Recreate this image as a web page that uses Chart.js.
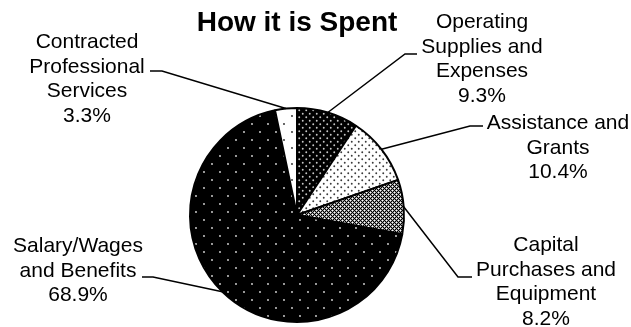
<!DOCTYPE html>
<html>
<head>
<meta charset="utf-8">
<script src="https://cdn.jsdelivr.net/npm/chart.js@4"></script>
<style>
  html, body { margin: 0; padding: 0; background: #fff; }
  #wrap { width: 631px; height: 327px; }
</style>
</head>
<body>
<div id="wrap"><canvas id="spentChart"></canvas></div>
<script>
// slices, clockwise from 12 o'clock
const categories = [
  ['Operating', 'Supplies and', 'Expenses'],
  ['Assistance and', 'Grants'],
  ['Capital', 'Purchases and', 'Equipment'],
  ['Salary/Wages', 'and Benefits'],
  ['Contracted', 'Professional', 'Services']
];
const shares = [9.3, 10.4, 8.2, 68.9, 3.3];
const chartTitle = 'How it is Spent';

// where each label block sits and where its leader line bends
const labelLayout = [
  { cx: 482, top: 28, elbow: [405, 54], end: [417, 54] },
  { cx: 558, top: 129, elbow: [470, 126], end: [483, 126] },
  { cx: 546, top: 251, elbow: [458, 277], end: [472, 277] },
  { cx: 78, top: 252, elbow: [153, 277], end: [142, 277] },
  { cx: 87, top: 48, elbow: [162, 71], end: [150, 71] }
];

const makeTile = (size, bg, draw) => {
  const c = document.createElement('canvas');
  c.width = size; c.height = size;
  const g = c.getContext('2d');
  g.fillStyle = bg;
  g.fillRect(0, 0, size, size);
  draw(g);
  return c;
};

const dots = (g, color, r, pts) => {
  g.fillStyle = color;
  pts.forEach(p => {
    g.beginPath();
    g.arc(p[0], p[1], r, 0, Math.PI * 2);
    g.fill();
  });
};

const ctx = document.getElementById('spentChart').getContext('2d');

const tiles = [
  makeTile(7, '#000', g => dots(g, '#c8c8c8', 0.95, [[1.75, 1.75], [5.25, 5.25]])),
  makeTile(7, '#fff', g => dots(g, '#3a3a3a', 0.95, [[1.75, 1.75], [5.25, 5.25]])),
  makeTile(4, '#9a9a9a', g => {
    g.fillStyle = '#000';
    [[0, 0], [1, 1], [2, 2], [3, 3], [1, 3], [3, 1]].forEach(p => g.fillRect(p[0], p[1], 1, 1));
    g.fillStyle = '#fff';
    [[0, 2], [2, 0]].forEach(p => g.fillRect(p[0], p[1], 1, 1));
  }),
  makeTile(16, '#000', g => dots(g, '#e0e0e0', 0.9, [[4, 4], [12, 12]])),
  makeTile(16, '#fff', g => dots(g, '#222', 0.9, [[4, 4], [12, 12]]))
];
const fills = tiles.map(t => ctx.createPattern(t, 'repeat'));

const calloutPlugin = {
  id: 'callouts',
  afterDraw(chart) {
    const c = chart.ctx;
    const arcs = chart.getDatasetMeta(0).data;
    c.save();
    c.strokeStyle = '#000';
    c.lineWidth = 1.5;
    c.fillStyle = '#000';
    c.font = '21px "Liberation Sans", Arial, sans-serif';
    c.textAlign = 'center';
    c.textBaseline = 'alphabetic';
    arcs.forEach((arc, i) => {
      const L = labelLayout[i];
      const mid = (arc.startAngle + arc.endAngle) / 2;
      const px = arc.x + Math.cos(mid) * arc.outerRadius;
      const py = arc.y + Math.sin(mid) * arc.outerRadius;
      c.beginPath();
      c.moveTo(px, py);
      c.lineTo(L.elbow[0], L.elbow[1]);
      c.lineTo(L.end[0], L.end[1]);
      c.stroke();
      const lines = categories[i].concat([shares[i].toFixed(1) + '%']);
      lines.forEach((t, k) => c.fillText(t, L.cx, L.top + k * 24.5));
    });
    c.restore();
  }
};

new Chart(ctx, {
  type: 'pie',
  data: {
    labels: categories.map(l => l.join(' ')),
    datasets: [{
      data: shares,
      backgroundColor: fills,
      borderColor: '#000',
      borderWidth: 2
    }]
  },
  options: {
    responsive: true,
    maintainAspectRatio: false,
    animation: false,
    events: [],
    layout: { padding: { top: 0, bottom: 4, left: 0, right: 37 } },
    plugins: {
      legend: { display: false },
      tooltip: { enabled: false },
      title: {
        display: true,
        text: chartTitle,
        color: '#000',
        font: { family: '"Liberation Sans", Arial, sans-serif', size: 28, weight: 'bold', lineHeight: 1.2 },
        padding: { top: 6, bottom: 67.4 }
      }
    }
  },
  plugins: [calloutPlugin]
});
</script>
</body>
</html>
